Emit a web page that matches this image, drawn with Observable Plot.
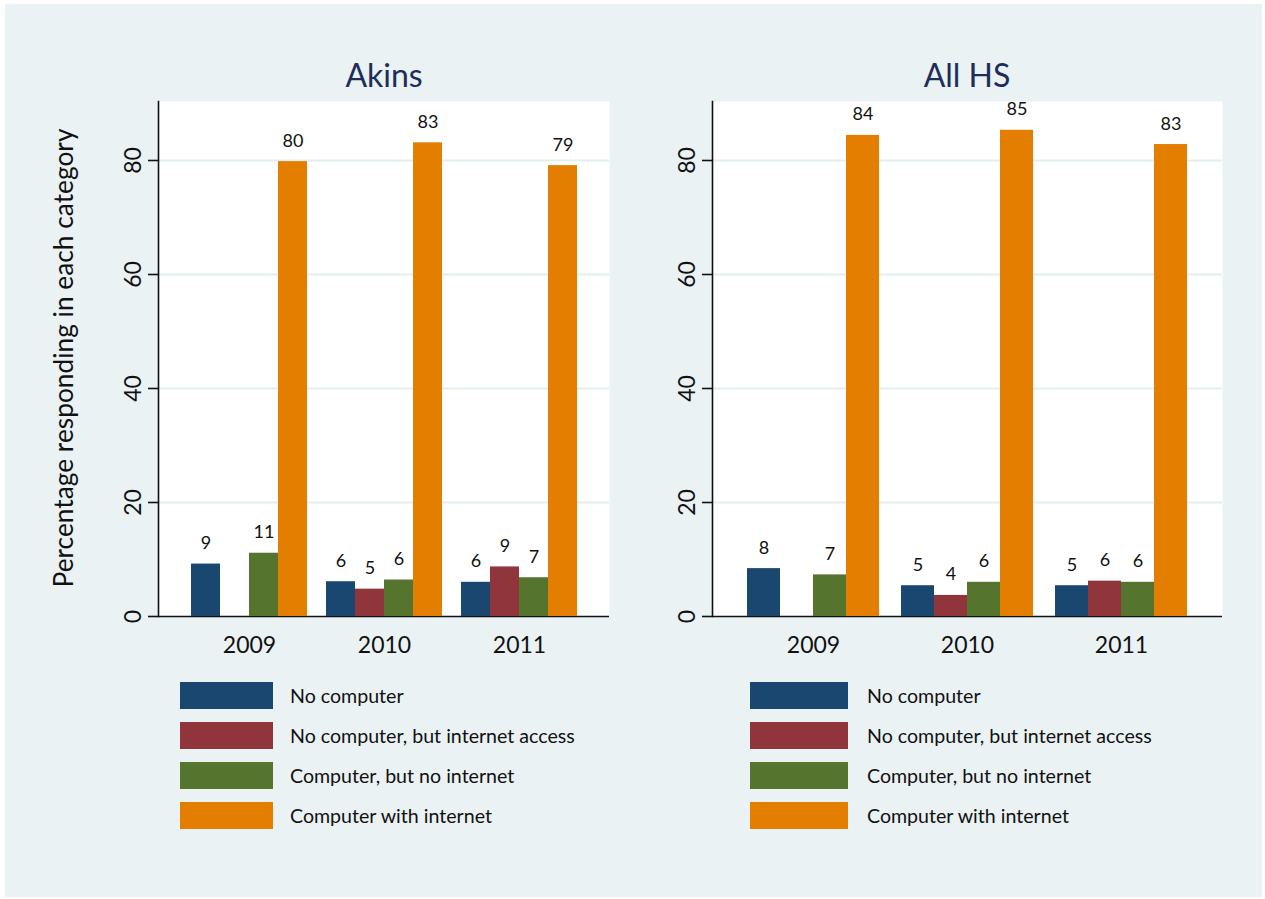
<!DOCTYPE html>
<html>
<head>
<meta charset="utf-8">
<script src="https://cdn.jsdelivr.net/npm/d3@7"></script>
<script src="https://cdn.jsdelivr.net/npm/@observablehq/plot@0.6"></script>
<style>
  html, body { margin: 0; padding: 0; background: white; }
  #page { position: relative; width: 1265px; height: 899px; background: white; overflow: hidden; font-family: Lato, "Open Sans", sans-serif; }
  #bg { position: absolute; left: 5px; top: 4px; width: 1257px; height: 893px; background: #eaf2f3; }
  .panel { position: absolute; top: 0; height: 666px; }
  .panel > svg { position: absolute; left: 0; top: 0; margin: 0; max-width: none !important; }
  .title { position: absolute; width: 400px; text-align: center; font-size: 32px; line-height: 36px; color: #1e2d5a; }
  .ylabel { position: absolute; width: 600px; text-align: center; font-size: 26.3px; line-height: 30px; color: #111; transform: rotate(-90deg); transform-origin: 50% 50%; white-space: nowrap; }
  .legend { position: absolute; }
  .legend .row { position: absolute; left: 0; height: 27px; white-space: nowrap; }
  .legend .sw { position: absolute; left: 0; top: 0; height: 27px; }
  .legend .lab { position: absolute; top: 0; font-size: 19.6px; line-height: 27px; color: #111; }
</style>
</head>
<body>
<div id="page">
  <div id="bg"></div>
  <div id="left" class="panel" style="left:0px; width:640px"></div>
  <div id="right" class="panel" style="left:640px; width:625px"></div>
  <div class="title" style="left:184px; top:57px">Akins</div>
  <div class="title" style="left:767px; top:57px">All HS</div>
  <div class="ylabel" style="left:-237px; top:343px">Percentage responding in each category</div>
  <div id="legendLeft" class="legend" style="left:180px; top:682px"></div>
  <div id="legendRight" class="legend" style="left:750px; top:682px"></div>
</div>
<script>
// ---- data ----
const years = ["2009", "2010", "2011"];
const categories = [
  "No computer",
  "No computer, but internet access",
  "Computer, but no internet",
  "Computer with internet"
];
const colors = ["#1a476f", "#90353b", "#55752f", "#e37e00"];
const yTicks = [0, 20, 40, 60, 80];

// Akins (by year 2009, 2010, 2011)
const akinsNoComputer = [9.2, 6.1, 6.0];
const akinsNoComputerInternet = [null, 4.8, 8.7];
const akinsComputerNoInternet = [11.1, 6.4, 6.8];
const akinsComputerInternet = [79.8, 83.1, 79.1];

// All HS (by year 2009, 2010, 2011)
const hsNoComputer = [8.4, 5.4, 5.4];
const hsNoComputerInternet = [null, 3.7, 6.2];
const hsComputerNoInternet = [7.3, 6.0, 6.0];
const hsComputerInternet = [84.4, 85.3, 82.8];

const FONT = "Lato, 'Open Sans', sans-serif";
const Y_MAX = 90.35;

function toRows(series) {
  const rows = [];
  years.forEach((year, i) => {
    series.forEach((arr, c) => {
      if (arr[i] != null) rows.push({year, category: categories[c], value: arr[i]});
    });
  });
  return rows;
}

function dims(o) {
  return {
    width: o.width, height: 666,
    marginTop: 101, marginBottom: 50,
    marginLeft: o.marginLeft, marginRight: o.marginRight,
    style: {background: "transparent", fontFamily: FONT, color: "#111", overflow: "visible", maxWidth: "none"}
  };
}

// underlay: white plot area, grid, axis lines, y axis
function underlay(o) {
  return Plot.plot({
    ...dims(o),
    y: {domain: [0, Y_MAX]},
    x: {domain: years, axis: null},
    marks: [
      Plot.frame({fill: "white", stroke: null}),
      Plot.ruleY(yTicks.slice(1), {stroke: "#e4edf0", strokeWidth: 2}),
      Plot.ruleY([0], {stroke: "#111", strokeWidth: 1.6}),
      Plot.frame({anchor: "left", stroke: "#111", strokeWidth: 1.6}),
      Plot.axisY({ticks: yTicks, tickSize: 10, tickPadding: 8, tickRotate: -90, fontSize: 23, label: null, stroke: "#111", strokeWidth: 1.6})
    ]
  });
}

// overlay: grouped bars faceted by year
function bars(rows, o) {
  return Plot.plot({
    ...dims(o),
    y: {domain: [0, Y_MAX], axis: null},
    x: {domain: categories, padding: 0, axis: null},
    fx: {domain: years, paddingInner: o.paddingInner, paddingOuter: o.paddingOuter, axis: null},
    color: {domain: categories, range: colors},
    marks: [
      Plot.barY(rows, {fx: "year", x: "category", y: "value", fill: "category"}),
      Plot.text(rows, {
        fx: "year", x: "category", y: "value",
        text: d => String(Math.round(d.value)),
        lineAnchor: "bottom", dy: -15, fontSize: 18, fill: "#111"
      }),
      Plot.axisFx({anchor: "bottom", tickSize: 0, tickPadding: 20, fontSize: 23, label: null})
    ]
  });
}

const akinsRows = toRows([akinsNoComputer, akinsNoComputerInternet, akinsComputerNoInternet, akinsComputerInternet]);
const hsRows = toRows([hsNoComputer, hsNoComputerInternet, hsComputerNoInternet, hsComputerInternet]);

const leftOpts = {width: 640, marginLeft: 158, marginRight: 31, paddingOuter: 0.24, paddingInner: 0.144};
const rightOpts = {width: 625, marginLeft: 72, marginRight: 43, paddingOuter: 0.22, paddingInner: 0.145};

document.getElementById("left").append(underlay(leftOpts), bars(akinsRows, leftOpts));
document.getElementById("right").append(underlay(rightOpts), bars(hsRows, rightOpts));

function legend(el, swatchW, gap) {
  categories.forEach((c, i) => {
    const row = document.createElement("div");
    row.className = "row";
    row.style.top = (i * 40) + "px";
    const sw = document.createElement("div");
    sw.className = "sw";
    sw.style.width = swatchW + "px";
    sw.style.background = colors[i];
    const lab = document.createElement("div");
    lab.className = "lab";
    lab.style.left = (swatchW + gap) + "px";
    lab.textContent = c;
    row.append(sw, lab);
    el.append(row);
  });
}
legend(document.getElementById("legendLeft"), 93, 17);
legend(document.getElementById("legendRight"), 98, 19);
</script>
</body>
</html>
